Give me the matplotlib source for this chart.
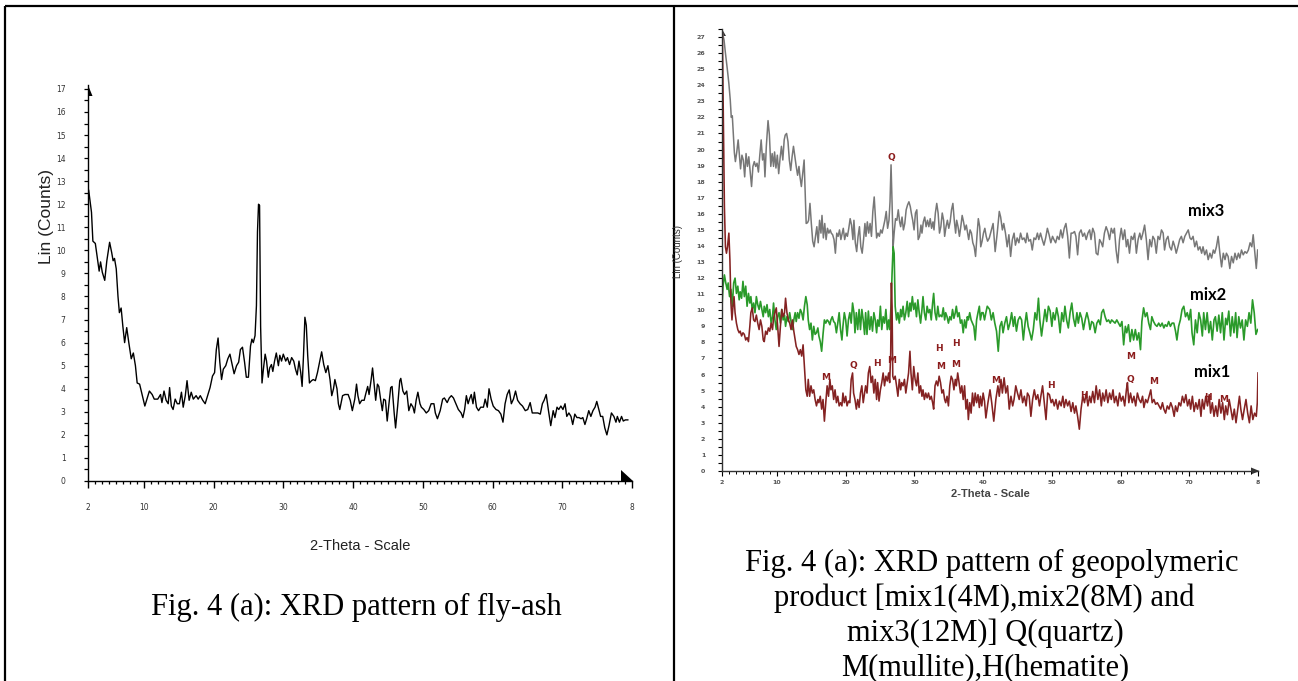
import matplotlib
matplotlib.use("Agg")
import matplotlib.pyplot as plt
from matplotlib.lines import Line2D
from matplotlib.patches import Polygon

# ---------------- data ----------------
# Fly ash (left panel)
fly_theta = [2.1, 2.5, 2.7, 3.05, 3.3, 3.6, 3.8, 4.05, 4.4, 4.7, 5.1, 5.4, 5.6, 5.8, 6.05, 6.3, 6.5, 6.75, 7.0, 7.25,
             7.55, 7.85, 8.2, 8.5, 8.8, 9.05, 9.4, 9.75, 10.15, 10.45, 10.8, 11.2, 11.5, 12.0, 12.4, 12.6, 12.9, 13.2, 13.5, 13.7,
             13.95, 14.2, 14.5, 14.8, 15.1, 15.4, 15.65, 15.95, 16.2, 16.5, 16.8, 17.1, 17.5, 17.8, 18.1, 18.45, 18.8, 19.15, 19.5, 19.85,
             20.15, 20.4, 20.65, 20.9, 21.15, 21.4, 21.75, 22.05, 22.35, 22.6, 22.95, 23.3, 23.6, 23.85, 24.15, 24.45, 24.7, 25.0, 25.3, 25.5,
             25.7, 25.95, 26.15, 26.3, 26.45, 26.6, 26.75, 26.95, 27.15, 27.4, 27.6, 27.85, 28.05, 28.3, 28.5, 28.75, 29.0, 29.3, 29.5, 29.75,
             30.0, 30.35, 30.6, 30.9, 31.2, 31.5, 31.75, 32.0, 32.25, 32.5, 32.7, 32.9, 33.1, 33.3, 33.5, 33.75, 34.05, 34.3, 34.6, 34.9,
             35.2, 35.5, 35.8, 36.1, 36.4, 36.7, 36.95, 37.2, 37.4, 37.7, 37.9, 38.1, 38.5, 38.85, 39.3, 39.6, 39.9, 40.25, 40.5, 40.7,
             40.95, 41.25, 41.6, 41.8, 42.1, 42.3, 42.6, 42.8, 43.05, 43.25, 43.5, 43.7, 43.95, 44.2, 44.4, 44.65, 44.9, 45.1, 45.4, 45.6,
             45.9, 46.1, 46.4, 46.7, 46.85, 47.15, 47.4, 47.7, 48.0, 48.3, 48.6, 48.8, 49.05, 49.3, 49.6, 49.8, 50.15, 50.5, 50.85, 51.2,
             51.6, 51.8, 52.1, 52.5, 52.85, 53.1, 53.5, 53.8, 54.1, 54.4, 54.75, 55.1, 55.5, 55.75, 56.0, 56.25, 56.5, 56.7, 56.95, 57.2,
             57.4, 57.7, 58.0, 58.3, 58.7, 58.95, 59.25, 59.5, 59.8, 60.1, 60.5, 60.85, 61.2, 61.5, 61.8, 62.1, 62.4, 62.7, 63.0, 63.3,
             63.6, 63.95, 64.3, 64.7, 65.05, 65.4, 65.7, 66.1, 66.5, 66.85, 67.15, 67.4, 67.7, 68.0, 68.35, 68.7, 68.95, 69.25, 69.5, 69.8,
             70.1, 70.4, 70.65, 70.95, 71.25, 71.5, 71.8, 72.1, 72.4, 72.7, 72.95, 73.25, 73.5, 73.8, 74.1, 74.4, 74.7, 74.95, 75.25, 75.5,
             75.8, 76.1, 76.4, 76.7, 77.05, 77.4, 77.7, 77.9, 78.2, 78.5, 78.75, 79.05, 79.4]
fly_counts = [12.6, 11.65, 10.4, 10.3, 9.75, 9.1, 9.5, 9.05, 8.7, 9.55, 10.35, 9.9, 9.55, 9.65, 9.2, 8.0, 7.3, 7.5, 6.7, 6.0,
              6.65, 6.0, 5.3, 5.55, 5.0, 4.25, 4.2, 3.75, 3.25, 3.55, 3.9, 3.75, 3.55, 3.55, 3.75, 3.4, 3.9, 3.5, 3.35, 4.05,
              3.25, 3.1, 3.55, 3.35, 3.35, 3.85, 3.2, 3.7, 4.35, 3.5, 3.85, 3.55, 3.7, 3.55, 3.7, 3.5, 3.35, 3.7, 4.05, 4.55,
              4.7, 5.7, 6.2, 5.15, 4.4, 4.85, 5.0, 5.3, 5.5, 5.15, 4.65, 5.0, 5.15, 5.7, 5.8, 5.15, 4.5, 4.5, 5.85, 6.15,
              6.0, 6.3, 7.6, 10.8, 12.0, 11.95, 6.7, 4.25, 4.85, 5.5, 5.2, 4.5, 4.9, 5.05, 4.75, 5.2, 5.55, 5.0, 5.45, 5.2,
              5.5, 5.2, 5.35, 5.05, 5.35, 5.2, 4.85, 4.6, 5.2, 4.7, 4.1, 5.45, 7.1, 6.75, 5.45, 4.25, 4.35, 4.4, 4.35, 4.7,
              5.15, 5.6, 5.05, 4.7, 5.0, 4.4, 3.7, 4.0, 4.4, 4.0, 3.35, 3.1, 3.7, 3.75, 3.75, 3.5, 3.05, 3.55, 4.2, 3.7,
              3.35, 3.5, 3.5, 3.75, 4.1, 3.75, 4.4, 4.9, 4.1, 3.5, 4.2, 4.1, 3.55, 3.05, 3.55, 3.5, 2.6, 3.2, 4.05, 4.1,
              2.95, 2.3, 3.25, 4.35, 4.45, 3.9, 3.75, 3.9, 3.05, 3.35, 3.2, 2.95, 3.5, 3.85, 3.35, 3.2, 3.1, 2.95, 3.05, 3.35,
              3.35, 2.95, 2.7, 3.05, 3.55, 3.6, 3.4, 3.6, 3.7, 3.6, 3.35, 3.1, 2.95, 2.75, 3.1, 3.7, 3.35, 3.55, 3.75, 3.35,
              3.85, 3.2, 3.05, 3.2, 3.2, 3.55, 3.2, 4.0, 3.55, 3.25, 3.1, 3.05, 2.9, 2.55, 3.35, 3.75, 3.95, 3.35, 3.55, 3.9,
              3.5, 3.35, 3.25, 3.05, 3.1, 3.4, 2.95, 2.95, 2.95, 2.9, 3.35, 3.5, 3.75, 3.1, 2.4, 3.05, 2.75, 3.2, 3.1, 3.25,
              3.1, 3.35, 2.8, 2.95, 2.8, 2.45, 2.9, 2.75, 2.75, 2.7, 2.75, 2.45, 2.7, 3.05, 2.8, 3.05, 3.2, 3.45, 3.1, 2.8,
              2.8, 2.3, 2.0, 2.4, 2.95, 2.8, 2.55, 2.8, 2.55, 2.8, 2.6, 2.65, 2.65]

# mix3 (12M) - grey
mix3_theta = [2.0, 2.3, 2.5, 2.8, 3.0, 3.2, 3.35, 3.5, 3.65, 3.8, 3.95, 4.15, 4.35, 4.5, 4.7, 4.9, 5.1, 5.3, 5.5, 5.7,
              5.9, 6.1, 6.3, 6.5, 6.7, 6.9, 7.1, 7.3, 7.5, 7.7, 7.9, 8.1, 8.25, 8.45, 8.7, 8.9, 9.1, 9.3, 9.5, 9.65,
              9.85, 10.05, 10.25, 10.45, 10.65, 10.85, 11.05, 11.2, 11.4, 11.6, 11.8, 12.0, 12.2, 12.4, 12.6, 12.8, 13.0, 13.2, 13.35, 13.55,
              13.75, 13.95, 14.1, 14.25, 14.45, 14.6, 14.8, 15.0, 15.2, 15.4, 15.6, 15.8, 16.0, 16.2, 16.4, 16.55, 16.75, 16.95, 17.15, 17.35,
              17.55, 17.75, 17.9, 18.1, 18.3, 18.5, 18.7, 18.9, 19.1, 19.3, 19.5, 19.65, 19.85, 20.05, 20.25, 20.45, 20.65, 20.85, 21.05, 21.2,
              21.4, 21.6, 21.8, 22.0, 22.2, 22.4, 22.6, 22.8, 22.95, 23.15, 23.35, 23.55, 23.75, 23.95, 24.15, 24.35, 24.5, 24.7, 24.9, 25.1,
              25.3, 25.5, 25.7, 25.9, 26.1, 26.3, 26.45, 26.6, 26.75, 26.9, 27.05, 27.25, 27.45, 27.65, 27.85, 28.0, 28.2, 28.4, 28.6, 28.8,
              29.0, 29.2, 29.4, 29.55, 29.75, 29.95, 30.15, 30.35, 30.55, 30.75, 30.95, 31.1, 31.3, 31.5, 31.7, 31.9, 32.1, 32.3, 32.5, 32.7,
              32.85, 33.05, 33.25, 33.45, 33.65, 33.85, 34.05, 34.25, 34.4, 34.6, 34.8, 35.0, 35.2, 35.4, 35.6, 35.8, 36.0, 36.15, 36.35, 36.55,
              36.75, 36.95, 37.15, 37.35, 37.55, 37.75, 37.9, 38.1, 38.3, 38.5, 38.7, 38.9, 39.1, 39.3, 39.5, 39.65, 39.85, 40.05, 40.25, 40.45,
              40.65, 40.9, 41.2, 41.45, 41.75, 42.05, 42.35, 42.55, 42.8, 43.0, 43.25, 43.5, 43.75, 44.0, 44.25, 44.5, 44.7, 44.95, 45.2, 45.45,
              45.7, 45.95, 46.2, 46.4, 46.65, 46.9, 47.15, 47.4, 47.65, 47.9, 48.1, 48.35, 48.6, 48.85, 49.1, 49.35, 49.6, 49.85, 50.1, 50.3,
              50.55, 50.8, 51.05, 51.3, 51.55, 51.8, 52.05, 52.3, 52.55, 52.8, 53.05, 53.3, 53.5, 53.75, 54.0, 54.25, 54.5, 54.75, 55.0, 55.25,
              55.5, 55.7, 55.95, 56.2, 56.45, 56.7, 56.95, 57.2, 57.4, 57.65, 57.9, 58.15, 58.4, 58.65, 58.9, 59.1, 59.35, 59.6, 59.85, 60.1,
              60.35, 60.6, 60.85, 61.05, 61.3, 61.55, 61.8, 62.05, 62.3, 62.55, 62.8, 63.0, 63.25, 63.5, 63.75, 64.0, 64.25, 64.5, 64.7, 64.95,
              65.2, 65.45, 65.7, 65.95, 66.2, 66.4, 66.65, 66.9, 67.15, 67.4, 67.65, 67.9, 68.1, 68.35, 68.6, 68.85, 69.1, 69.35, 69.6, 69.85,
              70.1, 70.3, 70.55, 70.8, 71.05, 71.3, 71.55, 71.8, 72.0, 72.25, 72.5, 72.75, 73.0, 73.25, 73.5, 73.7, 73.95, 74.2, 74.45, 74.7,
              74.95, 75.2, 75.4, 75.65, 75.9, 76.15, 76.4, 76.65, 76.9, 77.15, 77.35, 77.6, 77.85, 78.1, 78.35, 78.6, 78.85, 79.1, 79.3, 79.55,
              79.75, 79.95]
mix3_counts = [27.4, 26.8, 26.0, 24.9, 24.1, 23.1, 22.0, 22.1, 21.0, 19.8, 19.25, 19.85, 20.6, 19.8, 18.8, 19.65, 19.35, 18.3, 19.75, 18.95,
               19.55, 18.6, 17.7, 18.95, 19.25, 18.95, 19.15, 18.6, 19.65, 20.6, 19.35, 19.75, 18.3, 20.2, 21.8, 20.9, 18.95, 19.75, 18.95, 19.85,
               18.85, 19.65, 18.5, 19.45, 20.2, 19.35, 20.6, 20.9, 21.0, 20.5, 19.35, 18.7, 19.55, 20.2, 19.55, 18.95, 18.4, 18.95, 18.3, 17.7,
               18.5, 19.35, 17.3, 15.4, 15.45, 15.6, 16.65, 15.4, 14.3, 13.95, 14.6, 15.2, 14.2, 15.6, 14.8, 15.9, 14.5, 15.4, 14.4, 15.1,
               14.8, 15.0, 14.8, 14.7, 14.4, 13.55, 14.8, 14.6, 15.0, 14.4, 14.8, 15.1, 14.4, 14.8, 14.6, 15.1, 15.7, 15.3, 14.4, 15.6,
               14.2, 13.65, 14.6, 15.2, 13.95, 13.55, 14.4, 15.4, 14.6, 15.5, 14.8, 15.4, 14.6, 16.15, 17.05, 15.6, 14.5, 14.8, 14.6, 15.0,
               14.8, 15.2, 15.6, 16.15, 15.1, 15.6, 16.75, 19.05, 16.65, 13.95, 14.8, 15.7, 15.6, 16.25, 15.5, 15.2, 15.8, 15.0, 15.4, 16.25,
               16.55, 16.75, 16.45, 16.05, 15.6, 15.0, 16.05, 16.25, 14.4, 14.6, 15.3, 14.8, 15.5, 15.8, 15.2, 15.6, 15.2, 15.7, 15.1, 15.5,
               15.0, 16.05, 16.65, 16.05, 14.8, 15.2, 16.05, 15.6, 14.6, 15.2, 15.6, 15.1, 15.5, 16.25, 16.65, 15.6, 14.8, 15.6, 15.2, 14.6,
               15.2, 15.9, 15.5, 15.0, 15.3, 14.8, 14.4, 15.0, 14.8, 14.2, 13.95, 13.35, 14.6, 15.7, 15.2, 13.95, 14.3, 14.8, 15.1, 14.6,
               14.3, 14.5, 15.0, 15.4, 13.65, 14.8, 16.15, 15.8, 15.0, 15.4, 14.8, 13.95, 14.7, 13.35, 14.4, 14.8, 14.05, 14.5, 14.2, 14.8,
               14.4, 14.5, 14.2, 14.8, 14.3, 14.4, 13.75, 14.5, 14.4, 14.8, 14.4, 14.8, 14.4, 14.05, 14.5, 15.1, 14.7, 14.2, 14.6, 14.4,
               14.2, 14.6, 14.4, 15.0, 14.5, 15.1, 15.4, 14.6, 13.25, 14.8, 14.8, 14.9, 14.6, 13.45, 14.8, 15.0, 14.6, 14.8, 14.4, 14.8,
               15.0, 14.4, 15.1, 14.8, 13.55, 13.45, 14.4, 14.2, 13.95, 14.8, 15.2, 14.9, 14.4, 15.1, 14.8, 15.1, 13.75, 12.95, 14.4, 15.1,
               14.4, 15.0, 13.95, 14.4, 13.55, 14.6, 14.4, 14.8, 13.55, 14.4, 14.8, 14.4, 14.8, 15.3, 14.4, 13.15, 14.4, 13.95, 14.6, 14.4,
               13.55, 14.6, 14.4, 15.0, 14.8, 13.75, 14.4, 14.6, 13.95, 13.75, 14.3, 13.95, 13.55, 13.95, 14.4, 14.6, 14.2, 14.6, 14.8, 15.0,
               14.5, 14.4, 14.6, 13.95, 14.3, 13.75, 13.95, 13.55, 13.95, 13.45, 13.75, 13.15, 13.55, 13.25, 13.75, 13.55, 13.95, 14.6, 13.55, 12.7,
               13.55, 13.15, 13.55, 13.35, 12.6, 13.35, 12.95, 13.55, 13.15, 13.55, 13.25, 13.75, 13.45, 13.65, 13.55, 13.75, 14.2, 13.95, 14.7, 13.55,
               12.6, 13.75]

# mix2 (8M) - green
mix2_theta = [2.0, 2.15, 2.35, 2.55, 2.75, 2.9, 3.1, 3.3, 3.5, 3.7, 3.9, 4.1, 4.3, 4.5, 4.65, 4.85, 5.05, 5.25, 5.45, 5.65,
              5.85, 6.05, 6.2, 6.4, 6.6, 6.8, 7.0, 7.2, 7.4, 7.6, 7.8, 8.0, 8.15, 8.35, 8.55, 8.75, 8.95, 9.15, 9.35, 9.5,
              9.7, 9.9, 10.1, 10.3, 10.5, 10.7, 10.9, 11.1, 11.25, 11.45, 11.65, 11.85, 12.05, 12.25, 12.45, 12.65, 12.8, 13.0, 13.2, 13.4,
              13.6, 13.8, 14.0, 14.2, 14.4, 14.55, 14.75, 14.95, 15.15, 15.35, 15.55, 15.75, 15.95, 16.1, 16.3, 16.5, 16.7, 16.9, 17.1, 17.3,
              17.5, 17.7, 17.85, 18.05, 18.25, 18.45, 18.65, 18.85, 19.05, 19.25, 19.45, 19.6, 19.8, 20.0, 20.2, 20.4, 20.6, 20.8, 21.0, 21.2,
              21.35, 21.55, 21.75, 21.95, 22.15, 22.35, 22.55, 22.75, 22.9, 23.1, 23.3, 23.5, 23.7, 23.9, 24.1, 24.3, 24.5, 24.65, 24.85, 25.05,
              25.25, 25.45, 25.65, 25.85, 26.05, 26.25, 26.4, 26.6, 26.75, 26.9, 27.05, 27.2, 27.4, 27.6, 27.8, 28.0, 28.15, 28.35, 28.55, 28.75,
              28.95, 29.15, 29.35, 29.5, 29.7, 29.9, 30.1, 30.3, 30.5, 30.7, 30.9, 31.1, 31.25, 31.45, 31.65, 31.85, 32.05, 32.25, 32.45, 32.65,
              32.8, 33.0, 33.2, 33.4, 33.6, 33.8, 34.0, 34.2, 34.4, 34.55, 34.75, 34.95, 35.15, 35.35, 35.55, 35.75, 35.95, 36.1, 36.3, 36.5,
              36.7, 36.9, 37.1, 37.3, 37.5, 37.7, 37.85, 38.05, 38.25, 38.45, 38.65, 38.85, 39.05, 39.25, 39.45, 39.6, 39.8, 40.0, 40.2, 40.4,
              40.6, 40.95, 41.2, 41.45, 41.7, 41.95, 42.2, 42.45, 42.7, 42.9, 43.15, 43.4, 43.65, 43.9, 44.15, 44.4, 44.6, 44.85, 45.1, 45.35,
              45.6, 45.85, 46.1, 46.3, 46.55, 46.8, 47.05, 47.3, 47.55, 47.8, 48.05, 48.25, 48.5, 48.75, 49.0, 49.25, 49.5, 49.75, 50.0, 50.2,
              50.45, 50.7, 50.95, 51.2, 51.45, 51.7, 51.9, 52.15, 52.4, 52.65, 52.9, 53.15, 53.4, 53.65, 53.85, 54.1, 54.35, 54.6, 54.85, 55.1,
              55.35, 55.55, 55.8, 56.05, 56.3, 56.55, 56.8, 57.05, 57.25, 57.5, 57.75, 58.0, 58.25, 58.5, 58.7, 58.95, 59.2, 59.45, 59.7, 59.95,
              60.2, 60.45, 60.7, 60.9, 61.15, 61.4, 61.65, 61.9, 62.15, 62.4, 62.65, 62.9, 63.1, 63.35, 63.6, 63.85, 64.1, 64.35, 64.55, 64.8,
              65.05, 65.3, 65.55, 65.8, 66.05, 66.3, 66.5, 66.75, 67.0, 67.25, 67.5, 67.75, 68.0, 68.2, 68.45, 68.7, 68.95, 69.2, 69.45, 69.7,
              69.95, 70.2, 70.4, 70.65, 70.9, 71.15, 71.4, 71.65, 71.9, 72.1, 72.35, 72.6, 72.85, 73.1, 73.35, 73.6, 73.8, 74.05, 74.3, 74.55,
              74.8, 75.05, 75.3, 75.5, 75.75, 76.0, 76.25, 76.5, 76.75, 76.95, 77.2, 77.45, 77.7, 77.95, 78.2, 78.45, 78.7, 78.95, 79.2, 79.45,
              79.7, 79.95]
mix2_counts = [10.25, 11.5, 12.2, 11.7, 11.3, 11.7, 10.85, 11.3, 10.25, 11.7, 12.0, 11.05, 11.5, 10.65, 11.15, 10.75, 11.8, 10.85, 11.5, 10.25,
               11.05, 10.45, 10.85, 10.05, 10.45, 9.85, 10.85, 10.35, 10.05, 10.55, 10.05, 9.6, 10.25, 9.85, 10.35, 9.6, 10.05, 9.2, 9.6, 10.45,
               9.4, 8.8, 9.6, 9.85, 9.2, 10.05, 9.4, 9.7, 9.0, 9.6, 9.3, 9.85, 9.3, 8.8, 9.4, 9.85, 9.3, 9.85, 9.5, 10.05,
               9.85, 9.4, 10.25, 10.85, 10.35, 9.4, 8.8, 9.2, 8.15, 9.0, 8.5, 8.6, 8.9, 8.4, 8.05, 7.45, 8.5, 9.4, 9.2, 9.4,
               9.3, 9.1, 9.4, 9.6, 9.3, 9.2, 8.6, 9.2, 9.85, 8.8, 8.15, 9.0, 9.85, 9.4, 8.4, 9.4, 9.85, 9.2, 10.45, 9.85,
               8.6, 9.85, 8.8, 10.05, 8.8, 10.05, 9.4, 8.5, 9.85, 8.5, 9.95, 8.8, 9.6, 8.7, 9.85, 9.4, 8.6, 9.4, 9.0, 10.25,
               8.8, 9.6, 9.2, 10.05, 8.8, 9.4, 8.8, 10.25, 12.3, 13.95, 13.55, 10.25, 9.4, 9.85, 9.2, 10.05, 9.6, 10.25, 9.4, 9.85,
               10.55, 9.6, 10.45, 9.95, 10.85, 10.05, 10.45, 9.6, 10.65, 9.85, 9.2, 10.05, 10.85, 9.85, 9.4, 10.25, 9.85, 10.05, 9.4, 10.45,
               11.05, 9.85, 9.4, 10.25, 9.6, 9.7, 9.6, 10.15, 9.4, 9.85, 9.6, 9.2, 9.6, 9.4, 10.05, 9.5, 9.85, 10.25, 9.6, 9.85,
               9.2, 9.4, 8.6, 9.4, 8.9, 9.6, 9.4, 9.85, 9.4, 9.2, 9.0, 8.15, 9.4, 9.85, 10.25, 9.4, 9.85, 9.85, 9.4, 9.85,
               10.25, 10.05, 9.4, 9.85, 9.2, 8.7, 7.45, 9.0, 9.3, 8.6, 9.2, 9.6, 8.8, 9.2, 9.85, 9.0, 9.6, 8.7, 9.4, 9.6,
               9.4, 8.15, 9.2, 9.85, 9.0, 8.6, 8.15, 8.8, 9.85, 9.4, 10.75, 9.4, 8.4, 9.2, 10.05, 9.3, 10.25, 9.95, 9.0, 9.85,
               9.4, 10.15, 9.6, 8.6, 9.85, 9.3, 10.25, 9.4, 8.9, 9.85, 10.45, 9.5, 9.0, 9.85, 9.2, 9.85, 9.5, 8.8, 9.4, 9.85,
               9.4, 8.8, 9.3, 9.2, 8.6, 9.2, 9.4, 9.1, 9.85, 10.05, 9.6, 9.3, 9.4, 9.2, 9.4, 9.3, 9.2, 9.4, 9.2, 9.0,
               9.3, 7.85, 9.0, 8.6, 9.1, 8.05, 8.8, 8.15, 8.8, 8.15, 8.6, 7.55, 9.3, 10.15, 9.6, 9.85, 9.2, 8.8, 9.6, 9.3,
               9.1, 9.0, 9.2, 9.0, 9.2, 8.9, 9.1, 9.0, 9.3, 9.0, 9.2, 9.2, 8.7, 8.15, 9.0, 9.4, 10.05, 10.25, 9.6, 9.85,
               9.4, 10.05, 8.6, 7.85, 9.4, 8.6, 9.85, 9.4, 8.4, 9.85, 8.8, 9.85, 8.6, 9.3, 8.15, 9.4, 9.6, 8.7, 9.7, 8.6,
               9.85, 8.15, 9.5, 9.1, 9.95, 8.4, 9.6, 8.6, 9.85, 8.3, 9.6, 8.9, 9.4, 8.15, 9.4, 9.0, 9.85, 9.2, 10.65, 9.85,
               8.5, 8.8]

# mix1 (4M) - dark red
mix1_theta = [2.0, 2.05, 2.2, 2.35, 2.5, 2.65, 2.8, 3.0, 3.15, 3.3, 3.45, 3.6, 3.75, 3.9, 4.1, 4.3, 4.5, 4.65, 4.85, 5.05,
              5.25, 5.45, 5.65, 5.85, 6.05, 6.2, 6.4, 6.6, 6.8, 7.0, 7.2, 7.4, 7.6, 7.8, 8.0, 8.15, 8.35, 8.55, 8.75, 8.95,
              9.15, 9.35, 9.5, 9.7, 9.9, 10.1, 10.3, 10.5, 10.7, 10.9, 11.1, 11.25, 11.45, 11.65, 11.85, 12.05, 12.25, 12.45, 12.65, 12.8,
              13.0, 13.2, 13.4, 13.6, 13.8, 14.0, 14.2, 14.4, 14.55, 14.75, 14.95, 15.15, 15.35, 15.55, 15.75, 15.95, 16.1, 16.3, 16.5, 16.7,
              16.9, 17.1, 17.3, 17.5, 17.7, 17.85, 18.05, 18.25, 18.45, 18.65, 18.85, 19.05, 19.25, 19.45, 19.6, 19.8, 20.0, 20.2, 20.4, 20.6,
              20.8, 21.0, 21.15, 21.35, 21.55, 21.75, 21.95, 22.15, 22.35, 22.55, 22.75, 22.9, 23.1, 23.3, 23.5, 23.7, 23.9, 24.1, 24.3, 24.5,
              24.65, 24.85, 25.05, 25.25, 25.45, 25.65, 25.85, 26.05, 26.25, 26.4, 26.55, 26.65, 26.75, 26.85, 27.0, 27.2, 27.4, 27.6, 27.8, 28.0,
              28.15, 28.35, 28.55, 28.75, 28.95, 29.15, 29.35, 29.5, 29.7, 29.9, 30.1, 30.3, 30.5, 30.7, 30.9, 31.1, 31.25, 31.45, 31.65, 31.85,
              32.05, 32.25, 32.45, 32.65, 32.8, 33.0, 33.2, 33.4, 33.6, 33.8, 34.0, 34.2, 34.4, 34.55, 34.75, 34.95, 35.15, 35.35, 35.55, 35.75,
              35.95, 36.1, 36.3, 36.5, 36.7, 36.9, 37.1, 37.3, 37.5, 37.7, 37.85, 38.05, 38.25, 38.45, 38.65, 38.85, 39.05, 39.25, 39.45, 39.6,
              39.8, 40.0, 40.2, 40.4, 40.7, 41.0, 41.25, 41.55, 41.85, 42.15, 42.35, 42.6, 42.8, 43.05, 43.3, 43.55, 43.8, 44.05, 44.3, 44.5,
              44.75, 45.0, 45.25, 45.5, 45.75, 46.0, 46.25, 46.45, 46.7, 46.95, 47.2, 47.45, 47.7, 47.95, 48.2, 48.4, 48.65, 48.9, 49.15, 49.4,
              49.65, 49.9, 50.1, 50.35, 50.6, 50.85, 51.1, 51.35, 51.6, 51.8, 52.05, 52.3, 52.55, 52.8, 53.05, 53.3, 53.5, 53.75, 54.0, 54.25,
              54.5, 54.75, 55.0, 55.25, 55.5, 55.7, 55.95, 56.2, 56.45, 56.7, 56.95, 57.2, 57.4, 57.65, 57.9, 58.15, 58.4, 58.65, 58.9, 59.1,
              59.35, 59.6, 59.85, 60.1, 60.35, 60.6, 60.85, 61.0, 61.2, 61.45, 61.7, 61.95, 62.2, 62.45, 62.7, 62.95, 63.2, 63.4, 63.65, 63.9,
              64.15, 64.4, 64.6, 64.85, 65.1, 65.35, 65.6, 65.85, 66.1, 66.3, 66.55, 66.8, 67.05, 67.3, 67.55, 67.8, 68.0, 68.25, 68.5, 68.75,
              69.0, 69.25, 69.5, 69.75, 70.0, 70.2, 70.45, 70.7, 70.95, 71.2, 71.45, 71.7, 71.9, 72.15, 72.4, 72.65, 72.9, 73.1, 73.35, 73.6,
              73.85, 74.1, 74.35, 74.6, 74.85, 75.1, 75.3, 75.55, 75.8, 76.05, 76.3, 76.55, 76.8, 77.05, 77.3, 77.5, 77.75, 78.0, 78.25, 78.5,
              78.75, 79.0, 79.25, 79.5, 79.75, 79.9, 80.0]
mix1_counts = [27.4, 27.2, 21.8, 16.45, 13.95, 13.55, 13.95, 14.8, 13.15, 10.45, 9.4, 10.25, 10.85, 9.85, 9.2, 8.8, 8.6, 8.7, 8.4, 8.6,
               8.5, 8.15, 8.3, 8.05, 9.0, 9.85, 10.15, 9.4, 9.3, 9.7, 9.2, 8.8, 9.4, 9.0, 8.15, 8.05, 8.7, 8.5, 8.9, 8.7,
               9.2, 8.8, 9.5, 9.85, 10.15, 9.0, 7.75, 9.0, 10.05, 9.6, 9.85, 10.75, 9.85, 9.4, 9.2, 8.8, 9.4, 8.7, 8.15, 7.75,
               7.55, 7.25, 7.55, 7.15, 7.85, 6.5, 5.05, 4.65, 5.7, 4.65, 5.3, 4.85, 5.05, 4.45, 4.05, 4.45, 4.25, 4.65, 3.85, 4.45,
               3.1, 4.25, 5.3, 4.65, 5.7, 5.05, 5.3, 4.45, 5.05, 4.25, 4.65, 4.05, 4.25, 4.05, 4.85, 4.25, 4.65, 4.05, 4.35, 4.25,
               5.7, 6.1, 4.85, 4.45, 3.85, 4.45, 3.95, 4.85, 5.3, 4.25, 4.85, 5.3, 4.85, 6.1, 6.5, 5.5, 5.9, 4.85, 5.7, 4.45,
               5.5, 4.35, 5.05, 5.5, 6.1, 5.3, 5.9, 5.6, 6.1, 5.5, 7.35, 11.7, 10.25, 5.9, 5.7, 5.9, 5.3, 4.65, 5.7, 5.05,
               5.5, 5.3, 5.7, 4.85, 5.5, 6.1, 7.45, 6.1, 5.05, 6.5, 5.7, 5.3, 6.1, 4.85, 5.3, 4.65, 5.05, 4.45, 4.85, 4.55,
               4.85, 4.45, 4.65, 4.25, 3.85, 5.3, 5.6, 5.3, 5.9, 5.5, 4.85, 5.05, 4.45, 4.25, 4.65, 4.05, 5.3, 5.9, 5.7, 5.05,
               5.7, 5.3, 6.1, 5.5, 4.85, 5.3, 4.45, 5.3, 3.85, 4.45, 3.2, 4.25, 3.6, 4.85, 4.05, 4.85, 4.25, 4.75, 3.95, 4.65,
               4.05, 4.85, 4.35, 3.3, 4.25, 5.05, 4.25, 3.1, 4.45, 5.3, 4.65, 5.7, 4.85, 5.8, 4.85, 5.3, 3.85, 4.65, 4.05, 4.45,
               5.3, 4.85, 4.45, 5.05, 4.25, 4.65, 4.05, 4.85, 4.65, 3.4, 4.45, 5.05, 4.45, 4.75, 4.05, 4.65, 5.3, 4.25, 3.2, 4.85,
               4.75, 4.25, 4.45, 4.05, 4.45, 3.85, 4.35, 4.05, 4.65, 3.95, 4.45, 4.05, 4.35, 3.7, 4.25, 3.6, 4.05, 3.4, 2.6, 3.85,
               4.65, 4.25, 4.85, 4.05, 4.65, 4.25, 4.95, 4.25, 5.3, 4.45, 5.05, 4.05, 4.85, 4.35, 5.05, 4.25, 4.85, 4.45, 5.05, 4.25,
               4.65, 4.05, 4.85, 4.35, 4.65, 4.05, 5.05, 5.5, 4.25, 4.85, 4.25, 4.65, 4.05, 4.85, 4.45, 4.25, 4.65, 3.95, 4.45, 4.25,
               4.65, 5.05, 4.25, 4.45, 4.15, 4.25, 4.05, 3.85, 4.25, 3.85, 3.6, 4.05, 3.85, 4.25, 3.95, 3.4, 4.05, 3.7, 4.25, 4.05,
               4.65, 4.25, 4.75, 4.05, 4.45, 3.85, 4.65, 3.7, 4.25, 3.85, 4.45, 3.4, 4.45, 3.85, 4.65, 4.05, 4.75, 3.6, 4.25, 3.4,
               4.05, 3.4, 4.45, 3.6, 4.25, 3.2, 4.05, 3.5, 4.45, 3.85, 3.2, 3.85, 3.0, 3.85, 4.65, 3.85, 3.2, 3.85, 4.45, 3.6,
               3.0, 4.05, 3.2, 3.6, 3.4, 4.25, 6.1]

# phase markers (letter, 2-theta, counts)
phase_labels = ["Q", "M", "Q", "H", "M", "H", "M", "H", "M", "M", "H", "H", "M", "Q", "M", "H", "M"]
phase_theta = [26.6, 17.05, 21.1, 24.5, 26.75, 33.6, 33.8, 36.0, 36.0, 41.8, 49.8, 54.6, 61.4, 61.4, 64.8, 72.75, 75.0]
phase_counts = [19.5, 5.8, 6.55, 6.7, 6.9, 7.65, 6.5, 7.95, 6.65, 5.6, 5.3, 4.7, 7.1, 5.7, 5.55, 4.6, 4.45]

series_names = ["mix3", "mix2", "mix1"]
series_label_theta = [72.5, 72.7, 73.3]
series_label_counts = [16.2, 10.95, 6.15]

left_xticks = [2, 10, 20, 30, 40, 50, 60, 70, 80]
left_xticklabels = ["2", "10", "20", "30", "40", "50", "60", "70", "8"]
right_yticks = list(range(0, 28))
left_yticks = list(range(0, 18))

# ---------------- figure ----------------
W, H, DPI = 1298, 681, 100
fig = plt.figure(figsize=(W / DPI, H / DPI), dpi=DPI)
fig.patch.set_facecolor("white")


def fx(px):
    return px / W


def fy(py):
    return 1 - py / H


def frame_line(x0, y0, x1, y1, lw=1.6):
    fig.add_artist(Line2D([fx(x0), fx(x1)], [fy(y0), fy(y1)], transform=fig.transFigure,
                          color="black", lw=lw, solid_capstyle="butt"))


# table borders
frame_line(5, 6, 1298, 6)
frame_line(5, 6, 5, 681)
frame_line(674, 6, 674, 681)


def style_axes(ax, spine_color, arrow_w, arrow_h, ax_w, ax_h, xarrow_full):
    for s in ("top", "right"):
        ax.spines[s].set_visible(False)
    for s in ("left", "bottom"):
        ax.spines[s].set_color(spine_color)
        ax.spines[s].set_linewidth(1.0)
    ax.set_facecolor("white")
    # arrow on top of y axis
    ax.add_patch(Polygon([(0, 1), (arrow_w / ax_w, 1 - arrow_h / ax_h), (0, 1 - arrow_h / ax_h)],
                         closed=True, transform=ax.transAxes, clip_on=False, color=spine_color, lw=0))
    # arrow on right end of x axis
    if xarrow_full:
        pts = [(1 - arrow_h / ax_w, 3.5 / ax_h), (1 + 1.5 / ax_w, 0), (1 - arrow_h / ax_w, -3.5 / ax_h)]
    else:
        pts = [(1 - arrow_h / ax_w, arrow_h / ax_h), (1 + 1 / ax_w, 0), (1 - arrow_h / ax_w, 0)]
    ax.add_patch(Polygon(pts, closed=True, transform=ax.transAxes, clip_on=False, color=spine_color, lw=0))


# ---------- left panel ----------
Lx0, Lx1, Ly0, Ly1 = 88, 632, 481, 85
axL = fig.add_axes([fx(Lx0), fy(Ly0), (Lx1 - Lx0) / W, (Ly0 - Ly1) / H])
axL.plot(fly_theta, fly_counts, color="black", lw=1.0)
axL.set_xlim(2, 80)
axL.set_ylim(0, 17.17)
axL.set_xticks(left_xticks)
axL.set_xticklabels(left_xticklabels)
axL.set_xticks(list(range(2, 81)), minor=True)
axL.set_yticks(left_yticks)
axL.set_yticks([v + 0.5 for v in left_yticks[:-1]], minor=True)
axL.tick_params(axis="x", which="major", direction="out", length=5.0, width=1.0, pad=11,
                labelsize=5.5, labelcolor="#333333")
axL.tick_params(axis="x", which="minor", direction="out", length=2.4, width=0.9)
axL.tick_params(axis="y", which="both", direction="out", length=3.2, width=0.9, pad=13,
                labelsize=5.5, labelcolor="#333333")
style_axes(axL, "black", 4.5, 11, Lx1 - Lx0, Ly0 - Ly1, False)

fig.text(fx(47), fy(217), "Lin (Counts)", rotation=90, ha="center", va="center",
         fontsize=12.5, family="Liberation Sans", color="#222222")
fig.text(fx(360), fy(546), "2-Theta - Scale", ha="center", va="center",
         fontsize=10.5, family="Liberation Sans", color="#222222")
fig.text(fx(356), fy(607), "Fig. 4 (a): XRD pattern of fly-ash", ha="center", va="center",
         fontsize=22, family="Liberation Serif", color="black")

# ---------- right panel ----------
Rx0, Rx1, Ry0, Ry1 = 722, 1258, 471, 29
axR = fig.add_axes([fx(Rx0), fy(Ry0), (Rx1 - Rx0) / W, (Ry0 - Ry1) / H])
axR.plot(mix3_theta, mix3_counts, color="#777777", lw=1.1)
axR.plot(mix2_theta, mix2_counts, color="#2a9a2a", lw=1.2)
axR.plot(mix1_theta, mix1_counts, color="#842222", lw=1.15)
axR.set_xlim(2, 80)
axR.set_ylim(0, 27.5)
axR.set_xticks(left_xticks)
axR.set_xticklabels(left_xticklabels)
axR.set_xticks(list(range(2, 81)), minor=True)
axR.set_yticks(right_yticks)
axR.set_yticks([v + 0.5 for v in right_yticks], minor=True)
axR.tick_params(axis="x", which="major", direction="out", length=3.5, width=0.8, pad=3,
                labelsize=4.5, labelcolor="#555555")
axR.tick_params(axis="x", which="minor", direction="out", length=2.0, width=0.7)
axR.tick_params(axis="y", which="both", direction="out", length=3.0, width=0.8, pad=9,
                labelsize=4.5, labelcolor="#555555")
for lab in axR.get_xticklabels() + axR.get_yticklabels():
    lab.set_fontweight("bold")
style_axes(axR, "#333333", 4, 7, Rx1 - Rx0, Ry0 - Ry1, True)

for lab, t, c in zip(phase_labels, phase_theta, phase_counts):
    axR.text(t, c, lab, ha="center", va="center", fontsize=6.5, fontweight="bold",
             color="#8b1c1c", family="DejaVu Sans")
for name, t, c in zip(series_names, series_label_theta, series_label_counts):
    axR.text(t, c, name, ha="center", va="center", fontsize=12, fontweight="bold",
             color="black", family=["Lato", "DejaVu Sans"])

fig.text(fx(678), fy(252), "Lin (Counts)", rotation=90, ha="center", va="center",
         fontsize=7, family="Liberation Sans", color="#333333")
fig.text(fx(990), fy(494), "2-Theta - Scale", ha="center", va="center",
         fontsize=8, fontweight="bold", family="Liberation Sans", color="#444444")

caption_lines = ["Fig. 4 (a): XRD pattern of geopolymeric",
                 "product [mix1(4M),mix2(8M) and",
                 "mix3(12M)] Q(quartz)",
                 "M(mullite),H(hematite)"]
caption_y = [563, 598, 633, 668]
caption_x = [992, 984, 985, 985]
for txt, cx, cy in zip(caption_lines, caption_x, caption_y):
    fig.text(fx(cx), fy(cy), txt, ha="center", va="center", fontsize=22,
             family="Liberation Serif", color="black")

fig.savefig("out.png", dpi=DPI, facecolor="white")
